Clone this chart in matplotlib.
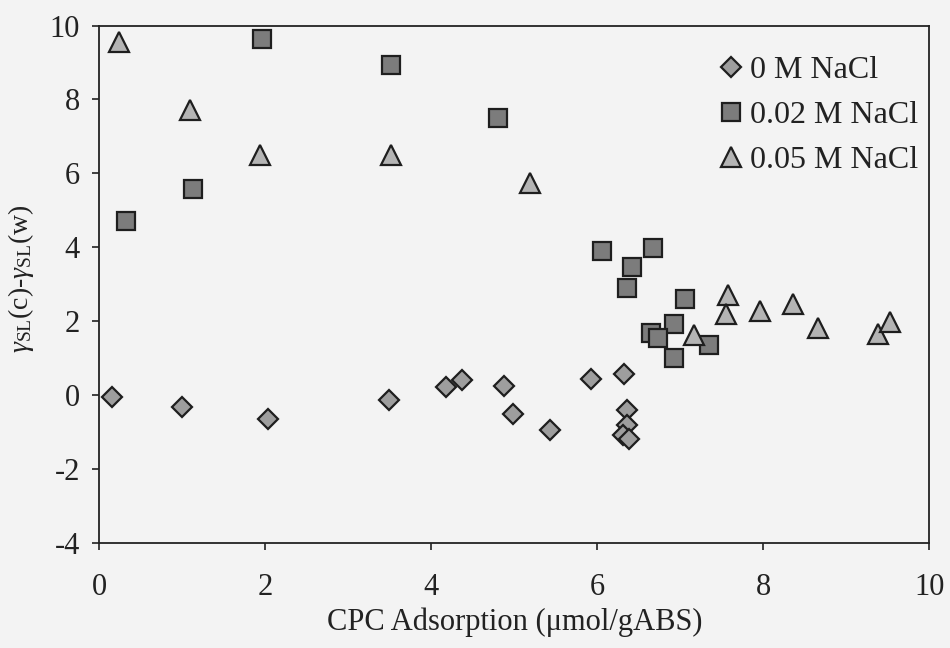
import matplotlib
matplotlib.use("Agg")
import matplotlib.pyplot as plt

# Data
x_0M = [0.15, 0.99, 2.03, 3.49, 4.17, 4.37, 4.87, 4.98, 5.43, 5.92, 6.32, 6.36, 6.36, 6.31, 6.38]
y_0M = [-0.07, -0.34, -0.65, -0.14, 0.20, 0.41, 0.25, -0.53, -0.95, 0.43, 0.55, -0.41, -0.82, -1.09, -1.20]

x_002M = [1.96, 3.51, 4.80, 1.13, 0.32, 6.06, 6.67, 6.41, 6.36, 7.06, 6.92, 6.64, 6.73, 7.34, 6.92]
y_002M = [9.64, 8.92, 7.50, 5.56, 4.70, 3.89, 3.98, 3.46, 2.90, 2.59, 1.92, 1.67, 1.55, 1.35, 0.99]

x_005M = [0.23, 1.09, 1.94, 3.51, 5.19, 7.57, 7.55, 7.96, 8.35, 8.66, 9.38, 9.52, 7.16]
y_005M = [9.56, 7.71, 6.49, 6.49, 5.74, 2.70, 2.18, 2.27, 2.47, 1.80, 1.66, 1.97, 1.63]

labels = ["0 M NaCl", "0.02 M NaCl", "0.05 M NaCl"]
x_ticks = [0, 2, 4, 6, 8, 10]
y_ticks = [-4, -2, 0, 2, 4, 6, 8, 10]

plt.rcParams['font.family'] = ['Liberation Serif', 'DejaVu Serif']
plt.rcParams['mathtext.fontset'] = 'custom'
plt.rcParams['mathtext.rm'] = 'Liberation Serif'
plt.rcParams['mathtext.it'] = 'Liberation Serif:italic'
plt.rcParams['axes.unicode_minus'] = False

bg = '#f3f3f3'
fig = plt.figure(figsize=(9.5, 6.48), dpi=100, facecolor=bg)
ax = fig.add_axes([0.1047, 0.1628, 0.8737, 0.7978], facecolor=bg)

edge = '#1e1e1e'
ax.plot(x_0M, y_0M, linestyle='none', marker='D', markersize=10,
        markerfacecolor='#9e9e9e', markeredgecolor=edge, markeredgewidth=1.6,
        label=labels[0])
ax.plot(x_002M, y_002M, linestyle='none', marker='s', markersize=13,
        markerfacecolor='#7c7c7c', markeredgecolor=edge, markeredgewidth=1.6,
        label=labels[1])
ax.plot(x_005M, y_005M, linestyle='none', marker='^', markersize=14,
        markerfacecolor='#b4b4b4', markeredgecolor=edge, markeredgewidth=1.6,
        label=labels[2])

ax.set_xlim(0, 10)
ax.set_ylim(-4, 10)
ax.set_xticks(x_ticks)
ax.set_yticks(y_ticks)
ax.tick_params(axis='x', direction='out', length=5, width=1.2, pad=17,
               labelsize=22, colors='#222222')
ax.tick_params(axis='y', direction='out', length=5, width=1.2, pad=9,
               labelsize=22, colors='#222222')
for s in ax.spines.values():
    s.set_linewidth(1.3)
    s.set_color('#222222')

ax.set_xlabel("CPC Adsorption (\u03bcmol/gABS)", fontsize=22, labelpad=4,
              color='#222222')
ax.set_ylabel(r"$\gamma$$_{\rm SL}$(c)-$\gamma$$_{\rm SL}$(w)", fontsize=20,
              color='#222222')
ax.yaxis.set_label_coords(-0.076, 0.51)

leg = ax.legend(loc='upper right', frameon=False, fontsize=23,
                handletextpad=0.1, handlelength=1.0, labelspacing=0.49,
                bbox_to_anchor=(1.0095, 0.979), borderaxespad=0.2,
                markerscale=1.0)
for t in leg.get_texts():
    t.set_color('#222222')

fig.savefig("out.png", dpi=100, facecolor=bg)
